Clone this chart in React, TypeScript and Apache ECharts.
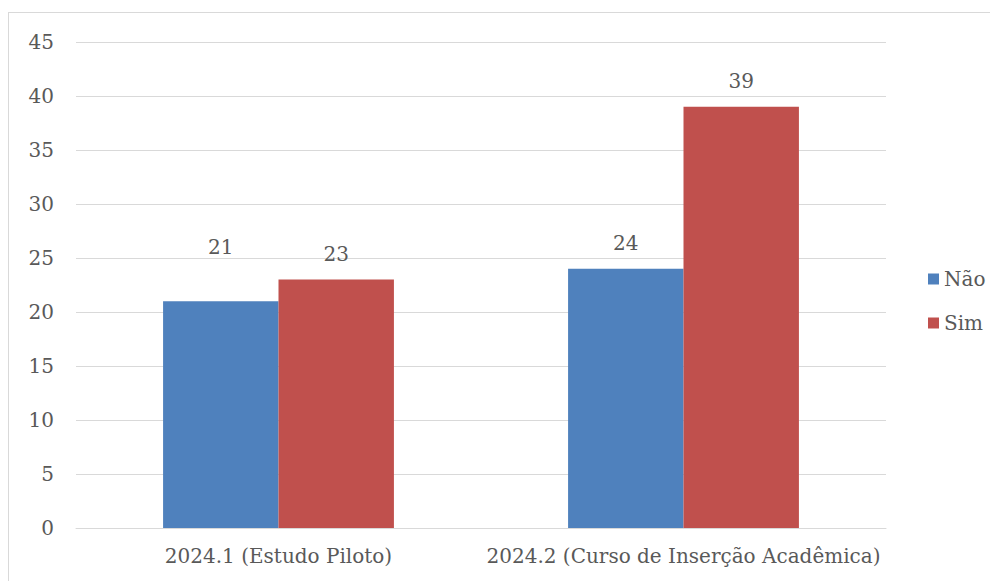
import React, { useEffect, useRef } from "react";
import * as echarts from "echarts";

const categories = ["2024.1 (Estudo Piloto)", "2024.2 (Curso de Inserção Acadêmica)"];
const naoValues = [21, 24];
const simValues = [23, 39];
const seriesNames = ["Não", "Sim"];

const FONT = "DejaVu Serif";
const TEXT = "#595959";
const FS = 20;

export default function App() {
  const ref = useRef<HTMLDivElement>(null);
  useEffect(() => {
    if (!ref.current) return;
    const chart = echarts.init(ref.current, null, { renderer: "svg" });
    const labelBase = { show: true, position: "top", distance: 16, color: TEXT, fontFamily: FONT, fontSize: FS };
    chart.setOption({
      animation: false,
      textStyle: { fontFamily: FONT, color: TEXT },
      grid: { left: 67, top: 29, width: 810, height: 486, containLabel: false },
      legend: {
        orient: "vertical",
        left: 914,
        top: 251,
        itemWidth: 11,
        itemHeight: 11,
        itemGap: 24,
        icon: "rect",
        textStyle: { fontFamily: FONT, color: TEXT, fontSize: FS, padding: [0, 0, 0, 0] },
        data: seriesNames,
      },
      xAxis: {
        type: "category",
        data: categories,
        axisLine: { lineStyle: { color: "#d9d9d9", width: 1 } },
        axisTick: { show: false },
        axisLabel: { color: TEXT, fontFamily: FONT, fontSize: FS, margin: 18, interval: 0 },
      },
      yAxis: {
        type: "value",
        min: 0,
        max: 45,
        interval: 5,
        axisLine: { show: false },
        axisTick: { show: false },
        splitLine: { lineStyle: { color: "#d9d9d9", width: 1 } },
        axisLabel: { color: TEXT, fontFamily: FONT, fontSize: FS, margin: 22 },
      },
      series: [
        {
          name: seriesNames[0],
          type: "bar",
          data: naoValues.map((v, i) => (i === 0 ? { value: v, label: { distance: 44 } } : v)),
          itemStyle: { color: "#4F81BD" },
          barGap: "0%",
          barCategoryGap: "43%",
          label: labelBase,
        },
        {
          name: seriesNames[1],
          type: "bar",
          data: simValues,
          itemStyle: { color: "#C0504D" },
          barGap: "0%",
          barCategoryGap: "43%",
          label: labelBase,
        },
      ],
    });
    return () => chart.dispose();
  }, []);
  return (
    <div
      style={{
        marginTop: 4,
        width: 1000,
        height: 580,
        border: "1px solid #d9d9d9",
        boxSizing: "border-box",
        background: "#fff",
      }}
    >
      <div ref={ref} style={{ width: 998, height: 578 }} />
    </div>
  );
}
